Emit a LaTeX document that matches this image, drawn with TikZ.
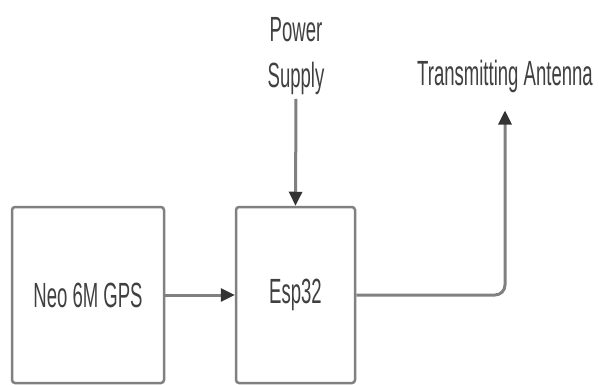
\documentclass[tikz,border=0pt]{standalone}
\usepackage{fontspec}
\setmainfont[FakeStretch=0.53]{Liberation Sans}
\usepackage{tikz}
\usetikzlibrary{arrows.meta,positioning}

\begin{document}
\begin{tikzpicture}[
    x=1pt, y=-1pt,
    % --- Node styles ---
    block/.style={draw=black!50, line width=2.5pt, rounded corners=3pt, fill=white,
      minimum height=176pt, text=black!75, font=\fontsize{35}{46}\selectfont},
    tag/.style={text=black!75, align=center, inner sep=2pt,
      font=\fontsize{35}{46}\selectfont},
    % --- Connector styles ---
    conn/.style={draw=black!50, line width=3pt,
      -{Triangle[length=14pt, width=13pt, color=black!80]}},
]
\useasboundingbox (0,0) rectangle (599,385);

% === The blocks ===
\node[block, minimum width=152pt] (gps) at (88,295) {Neo 6M GPS};
\node[block, minimum width=119pt] (esp) at (295.5,295) {Esp32};

% === Labels ===
\node[tag] (power) at (296,56) {Power\\Supply};
\node[tag] (antenna) at (505,76) {Transmitting Antenna};

% === Connectors ===
\draw[conn] (gps.east) -- (esp.west);
\draw[conn, shorten <=2pt] (power.south) -- (esp.north);
\draw[conn, rounded corners=10pt, shorten >=16pt] (esp.east) -| (antenna.south);

\end{tikzpicture}
\end{document}
